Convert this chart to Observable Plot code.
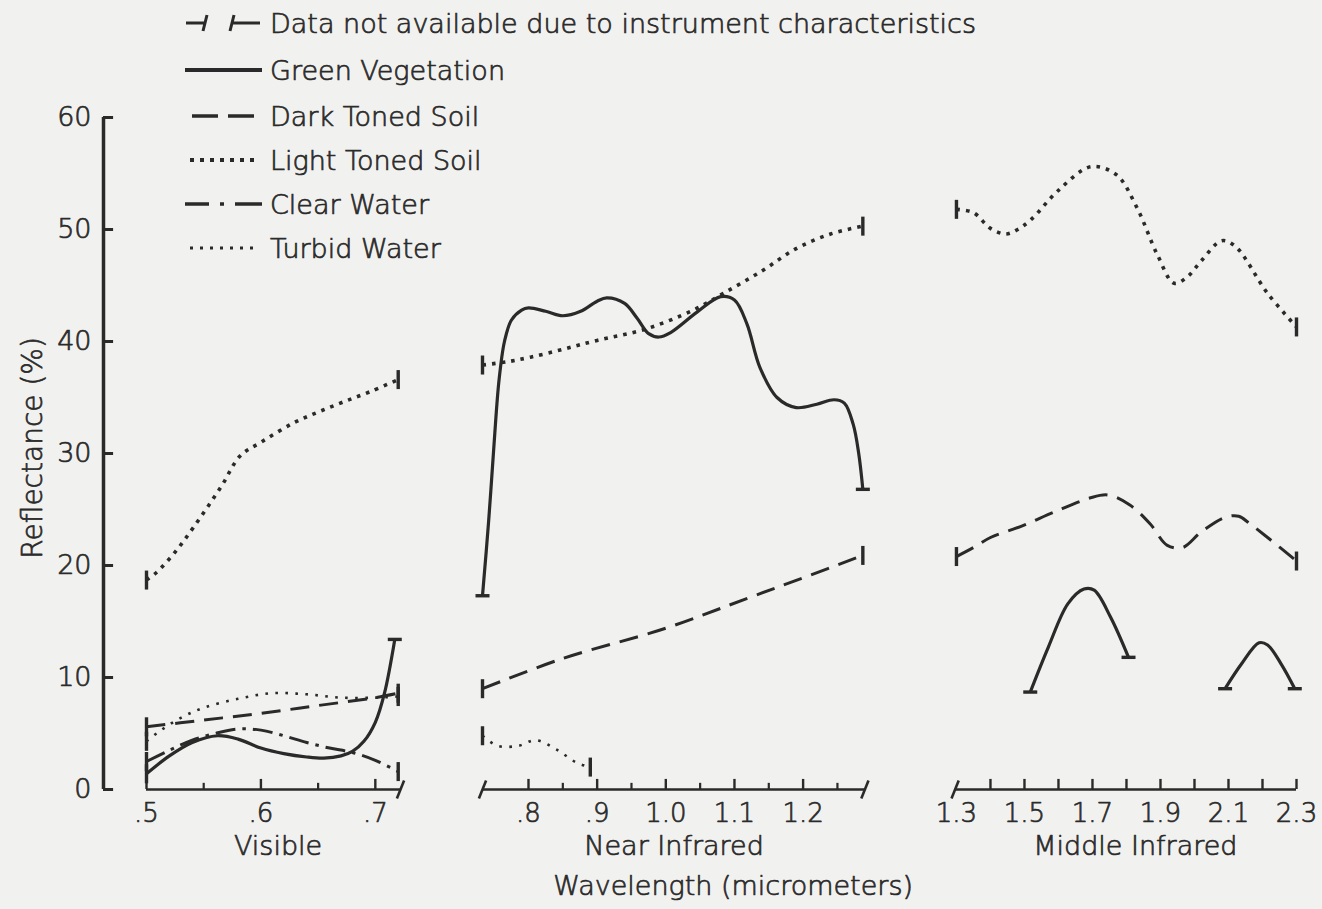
<!DOCTYPE html>
<html>
<head>
<meta charset="utf-8">
<script src="https://cdn.jsdelivr.net/npm/d3@7"></script>
<script src="https://cdn.jsdelivr.net/npm/@observablehq/plot@0.6"></script>
<style>
  html, body { margin: 0; padding: 0; background: #f1f1ef; }
  #chart { position: relative; width: 1322px; height: 909px; font-family: "DejaVu Sans", sans-serif; font-weight: 300; color: #2a2a2a; overflow: hidden; }
  #chart > svg { position: absolute; left: 0; top: 0; }
  .legend-row { position: absolute; left: 182px; height: 40px; display: flex; align-items: center; font-size: 27px; white-space: nowrap; -webkit-text-stroke: 0.7px #2a2a2a; }
  .legend-row svg { width: 82px; height: 40px; margin-right: 6px; flex: none; }
</style>
</head>
<body>
<div id="chart"></div>
<script>
// ---------------- DATA (wavelength in micrometers, reflectance in %) ----------------
// Visible band
const visLightSoil   = [[0.5,18.7],[0.509,19.4],[0.525,21.2],[0.541,23.4],[0.565,27.0],[0.582,29.8],[0.6,31.0],[0.628,32.7],[0.65,33.7],[0.672,34.6],[0.695,35.5],[0.72,36.6]];
const visGreenVeg    = [[0.5,1.4],[0.52,3.0],[0.54,4.2],[0.562,4.8],[0.58,4.5],[0.6,3.7],[0.62,3.2],[0.64,2.9],[0.655,2.8],[0.67,3.0],[0.68,3.4],[0.69,4.3],[0.7,6.0],[0.708,8.6],[0.717,13.4]];
const visDarkSoil    = [[0.5,5.6],[0.55,6.2],[0.6,6.8],[0.65,7.5],[0.7,8.2],[0.72,8.6]];
const visClearWater  = [[0.5,2.5],[0.52,3.5],[0.54,4.4],[0.56,5.0],[0.58,5.4],[0.6,5.3],[0.62,4.8],[0.64,4.2],[0.66,3.7],[0.68,3.3],[0.7,2.6],[0.72,1.6]];
const visTurbidWater = [[0.5,4.3],[0.51,5.1],[0.53,6.4],[0.55,7.3],[0.58,8.1],[0.61,8.6],[0.64,8.5],[0.67,8.2],[0.7,8.2],[0.72,8.3]];
// Near infrared band
const nirGreenVeg    = [[0.733,17.3],[0.742,24.0],[0.75,31.0],[0.757,36.5],[0.765,40.0],[0.775,41.9],[0.79,42.8],[0.8,43.0],[0.825,42.7],[0.85,42.3],[0.876,42.7],[0.9,43.6],[0.914,43.9],[0.94,43.4],[0.958,42.1],[0.975,40.7],[0.99,40.4],[1.007,40.8],[1.045,42.6],[1.08,44.0],[1.1,43.7],[1.118,41.6],[1.137,37.7],[1.162,35.0],[1.19,34.1],[1.22,34.4],[1.245,34.8],[1.26,34.5],[1.273,32.6],[1.281,30.0],[1.287,26.8]];
const nirLightSoil   = [[0.733,37.9],[0.77,38.2],[0.803,38.6],[0.85,39.3],[0.9,40.1],[0.97,41.1],[1.04,42.8],[1.084,44.3],[1.14,46.3],[1.19,48.3],[1.24,49.6],[1.287,50.3]];
const nirDarkSoil    = [[0.733,9.0],[0.85,11.7],[1.0,14.4],[1.12,17.1],[1.2,18.9],[1.287,20.9]];
const nirTurbidWater = [[0.733,4.8],[0.755,3.9],[0.785,3.9],[0.81,4.4],[0.84,3.6],[0.87,2.4],[0.89,2.0]];
// Middle infrared band
const mirLightSoil   = [[1.3,51.8],[1.35,51.5],[1.4,50.1],[1.445,49.6],[1.48,50.0],[1.52,50.9],[1.6,53.5],[1.695,55.6],[1.77,54.9],[1.83,52.0],[1.89,47.8],[1.94,45.2],[1.98,45.8],[2.02,47.2],[2.08,49.0],[2.12,48.5],[2.215,44.3],[2.3,41.3]];
const mirDarkSoil    = [[1.3,20.8],[1.35,21.6],[1.4,22.5],[1.49,23.5],[1.59,24.8],[1.69,26.0],[1.745,26.3],[1.81,25.4],[1.87,23.7],[1.92,21.8],[1.965,21.6],[2.02,23.0],[2.09,24.3],[2.13,24.4],[2.16,23.8],[2.215,22.5],[2.3,20.4]];
const mirGreenVegA   = [[1.517,8.7],[1.57,12.7],[1.628,16.6],[1.675,17.9],[1.705,17.8],[1.753,15.4],[1.806,11.8]];
const mirGreenVegB   = [[2.09,9.0],[2.138,11.2],[2.19,13.1],[2.215,12.9],[2.255,11.2],[2.295,9.0]];

// Series names (legend order)
const seriesNames = ["Green Vegetation", "Dark Toned Soil", "Light Toned Soil", "Clear Water", "Turbid Water"];
const naLabel = "Data not available due to instrument characteristics";

// Segments: [series, points, startCapOrientation, endCapOrientation]
const segments = [
  ["Light Toned Soil", visLightSoil, "v", "v"],
  ["Green Vegetation", visGreenVeg, "v", "h"],
  ["Dark Toned Soil", visDarkSoil, "v", "v"],
  ["Clear Water", visClearWater, "v", "v"],
  ["Turbid Water", visTurbidWater, "v", "v"],
  ["Green Vegetation", nirGreenVeg, "h", "h"],
  ["Light Toned Soil", nirLightSoil, "v", "v"],
  ["Dark Toned Soil", nirDarkSoil, "v", "v"],
  ["Turbid Water", nirTurbidWater, "v", "v"],
  ["Light Toned Soil", mirLightSoil, "v", "v"],
  ["Dark Toned Soil", mirDarkSoil, "v", "v"],
  ["Green Vegetation", mirGreenVegA, "h", "h"],
  ["Green Vegetation", mirGreenVegB, "h", "h"]
];

// Axis ticks and labels
const yTicks = [0, 10, 20, 30, 40, 50, 60];
const xMajorTicks = [0.5, 0.6, 0.7, 0.8, 0.9, 1.0, 1.1, 1.2, 1.4, 1.5, 1.6, 1.7, 1.8, 1.9, 2.0, 2.1, 2.2, 2.3];
const xMinorTicks = [0.55, 0.65, 0.85, 0.95, 1.05, 1.15, 1.25];
const xLabelValues = [0.5, 0.6, 0.7, 0.8, 0.9, 1.0, 1.1, 1.2, 1.3, 1.5, 1.7, 1.9, 2.1, 2.3];
const xLabelTexts  = [".5", ".6", ".7", ".8", ".9", "1.0", "1.1", "1.2", "1.3", "1.5", "1.7", "1.9", "2.1", "2.3"];
const panelNames   = ["Visible", "Near Infrared", "Middle Infrared"];
const panelStart   = [0.5, 0.733, 1.296];
const panelEnd     = [0.722, 1.29, 2.3];
const panelCenter  = [0.615, 1.012, 1.826];

// ---------------- STYLE ----------------
const ink = "#2a2a2a";
const textStroke = {stroke: ink, strokeWidth: 0.7};
const styles = {
  "Green Vegetation": {strokeWidth: 3.2},
  "Dark Toned Soil":  {strokeWidth: 3, strokeDasharray: "19,10"},
  "Light Toned Soil": {strokeWidth: 3.6, strokeDasharray: "3.6,6"},
  "Clear Water":      {strokeWidth: 3, strokeDasharray: "20,7,3.5,7"},
  "Turbid Water":     {strokeWidth: 2.6, strokeDasharray: "2.6,7.4"}
};

// ---------------- TABLES ----------------
const rows = [];
const caps = [];
segments.forEach(([series, pts, sc, ec], i) => {
  pts.forEach(([wl, r]) => rows.push({series, seg: i, wl, r}));
  caps.push({wl: pts[0][0], r: pts[0][1], o: sc});
  caps.push({wl: pts[pts.length - 1][0], r: pts[pts.length - 1][1], o: ec});
});
const panels = panelNames.map((name, i) => ({name, start: panelStart[i], end: panelEnd[i], center: panelCenter[i]}));
const xLabels = xLabelValues.map((v, i) => ({v, t: xLabelTexts[i]}));
const breaks = [0.722, 0.733, 1.29, 1.296];

// broken x axis: piecewise linear scale
const yAxisAt = 0.4625;
const xDomain = [yAxisAt, 0.5, 0.722, 0.733, 1.29, 1.296, 2.3];
const xRange  = [103, 146, 400, 482, 864.4, 954.6, 1296];

const rad = size => Math.sqrt(size / Math.PI);
const vBar  = {draw(c, s) { const r = rad(s); c.moveTo(0, -r); c.lineTo(0, r); }};
const hBar  = {draw(c, s) { const r = rad(s); c.moveTo(-r, 0); c.lineTo(r, 0); }};
const slash = {draw(c, s) { const r = rad(s); c.moveTo(-0.4 * r, r); c.lineTo(0.4 * r, -r); }};

const lineMarks = seriesNames.map(name => Plot.line(rows.filter(d => d.series === name), {
  x: "wl", y: "r", z: "seg", curve: "catmull-rom", stroke: ink, fill: "none",
  strokeLinecap: "butt", strokeLinejoin: "round", ...styles[name]
}));

const chart = Plot.plot({
  width: 1322, height: 909,
  marginTop: 117, marginBottom: 120, marginLeft: 103, marginRight: 26,
  x: {type: "linear", domain: xDomain, range: xRange, axis: null},
  y: {domain: [0, 60], axis: null},
  style: {background: "transparent", fontFamily: "'DejaVu Sans', sans-serif", fontWeight: 300, fontSize: "26px", color: ink, overflow: "visible"},
  marks: [
    // y axis
    Plot.ruleX([yAxisAt], {y1: 0, y2: 60, stroke: ink, strokeWidth: 3.5}),
    Plot.ruleY(yTicks, {x1: yAxisAt, x2: yAxisAt + 0.0088, stroke: ink, strokeWidth: 3}),
    Plot.text(yTicks, {x: yAxisAt, y: d => d, text: d => String(d), textAnchor: "end", dx: -12, fill: ink, fontSize: 27, ...textStroke}),
    Plot.text(["Reflectance (%)"], {x: yAxisAt, y: 30.5, text: d => d, rotate: -90, dx: -70, fill: ink, fontSize: 28, ...textStroke}),
    // x axes (one per band)
    Plot.ruleY(panels, {y: 0, x1: "start", x2: "end", stroke: ink, strokeWidth: 2.6}),
    Plot.ruleX(xMajorTicks, {x: d => d, y1: 0, y2: 0.9, stroke: ink, strokeWidth: 2.4}),
    Plot.ruleX(xMinorTicks, {x: d => d, y1: 0, y2: 0.55, stroke: ink, strokeWidth: 2.2}),
    Plot.dot(breaks, {x: d => d, y: 0, symbol: slash, r: 9, fill: "none", stroke: ink, strokeWidth: 2.6}),
    Plot.text(xLabels, {x: "v", y: 0, text: "t", dy: 24, fill: ink, fontSize: 26, ...textStroke}),
    Plot.text(panels, {x: "center", y: 0, text: "name", dy: 57, fill: ink, fontSize: 27, ...textStroke}),
    Plot.text(["Wavelength (micrometers)"], {x: 1.098, y: 0, text: d => d, dy: 97, fill: ink, fontSize: 27, ...textStroke}),
    // data
    ...lineMarks,
    Plot.dot(caps.filter(d => d.o === "v"), {x: "wl", y: "r", symbol: vBar, r: 9.5, fill: "none", stroke: ink, strokeWidth: 3.4}),
    Plot.dot(caps.filter(d => d.o === "h"), {x: "wl", y: "r", symbol: hBar, r: 7, fill: "none", stroke: ink, strokeWidth: 3.4})
  ]
});
document.getElementById("chart").appendChild(chart);

// ---------------- LEGEND (HTML overlay, top-left) ----------------
const legendCenters = [23, 70, 116, 160, 204, 248];
const legendSamples = [
  `<path d="M4,20H24M21,28L25,12M50,20H78M48,28L52,12" stroke="${ink}" stroke-width="3" fill="none"/>`,
  `<path d="M3,20H80" stroke="${ink}" stroke-width="4" fill="none"/>`,
  `<path d="M10,20H74" stroke="${ink}" stroke-width="3.6" stroke-dasharray="26,10" fill="none"/>`,
  `<path d="M8,20H74" stroke="${ink}" stroke-width="4" stroke-dasharray="4,6" fill="none"/>`,
  `<path d="M3,20H80" stroke="${ink}" stroke-width="3.6" stroke-dasharray="24,11,4,11,30" fill="none"/>`,
  `<path d="M8,20H74" stroke="${ink}" stroke-width="3" stroke-dasharray="3,7" fill="none"/>`
];
const legendTexts = [naLabel, ...seriesNames];
const root = document.getElementById("chart");
legendTexts.forEach((t, i) => {
  const row = document.createElement("div");
  row.className = "legend-row";
  row.style.top = (legendCenters[i] - 20) + "px";
  row.innerHTML = `<svg viewBox="0 0 82 40">${legendSamples[i]}</svg><span>${t}</span>`;
  root.appendChild(row);
});
</script>
</body>
</html>
